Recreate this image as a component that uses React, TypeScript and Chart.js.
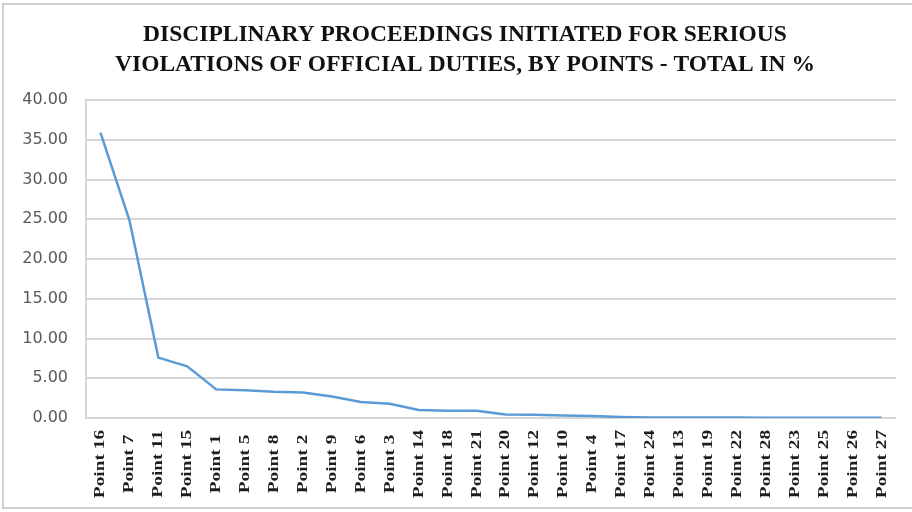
import React, { useEffect, useRef } from "react";
import { Chart, registerables } from "chart.js";

Chart.register(...registerables);

const categories: string[] = [
  "Point 16", "Point 7", "Point 11", "Point 15", "Point 1", "Point 5", "Point 8",
  "Point 2", "Point 9", "Point 6", "Point 3", "Point 14", "Point 18", "Point 21",
  "Point 20", "Point 12", "Point 10", "Point 4", "Point 17", "Point 24", "Point 13",
  "Point 19", "Point 22", "Point 28", "Point 23", "Point 25", "Point 26", "Point 27",
];

const totalPercent: number[] = [
  35.9, 24.9, 7.6, 6.5, 3.6, 3.5, 3.3,
  3.2, 2.7, 2.0, 1.8, 1.0, 0.9, 0.9,
  0.45, 0.4, 0.3, 0.25, 0.12, 0.07, 0.06,
  0.05, 0.05, 0.04, 0.03, 0.03, 0.02, 0.02,
];

const titleLines: string[] = [
  "DISCIPLINARY PROCEEDINGS INITIATED FOR SERIOUS",
  "VIOLATIONS OF OFFICIAL DUTIES, BY POINTS - TOTAL IN %",
];

// Outer frame around the whole chart
const framePlugin = {
  id: "frame",
  beforeDraw(chart: Chart) {
    const { ctx } = chart;
    ctx.save();
    ctx.fillStyle = "#ffffff";
    ctx.fillRect(0, 0, chart.width, chart.height);
    ctx.strokeStyle = "#cfcfcf";
    ctx.lineWidth = 2;
    ctx.strokeRect(3, 4, chart.width + 10, 504);
    ctx.restore();
  },
};

// Two-line heading, centred over the chart
const headingPlugin = {
  id: "heading",
  afterDraw(chart: Chart) {
    const { ctx } = chart;
    ctx.save();
    ctx.fillStyle = "#111111";
    ctx.font = "bold 23.5px 'Liberation Serif', serif";
    ctx.textAlign = "center";
    ctx.textBaseline = "middle";
    const cx = 465;
    titleLines.forEach((line, i) => {
      ctx.fillText(line, cx, 35 + i * 30);
    });
    ctx.restore();
  },
};

// Vertical category labels, centred in the band below the plot
const categoryLabelPlugin = {
  id: "categoryLabels",
  afterDraw(chart: Chart) {
    const { ctx } = chart;
    const xScale = chart.scales.x;
    const labels = chart.data.labels as string[];
    const centerY = chart.chartArea.bottom + 46;
    ctx.save();
    ctx.fillStyle = "#1e1e1e";
    ctx.font = "bold 15.5px 'Liberation Serif', serif";
    ctx.textAlign = "center";
    ctx.textBaseline = "middle";
    labels.forEach((label, i) => {
      const x = xScale.getPixelForTick(i);
      ctx.save();
      ctx.translate(x, centerY);
      ctx.rotate(-Math.PI / 2);
      ctx.scale(1.25, 1);
      ctx.fillText(label, 0, 0);
      ctx.restore();
    });
    ctx.restore();
  },
};

export default function App() {
  const canvasRef = useRef<HTMLCanvasElement | null>(null);

  useEffect(() => {
    const canvas = canvasRef.current;
    if (!canvas) return;
    const chart = new Chart(canvas, {
      type: "line",
      data: {
        labels: categories,
        datasets: [
          {
            label: "Total in %",
            data: totalPercent,
            borderColor: "#5b9bd5",
            backgroundColor: "#5b9bd5",
            borderWidth: 2.5,
            pointRadius: 0,
            tension: 0,
          },
        ],
      },
      options: {
        animation: false,
        responsive: false,
        layout: { padding: { top: 100, left: 0, right: 16, bottom: 0 } },
        plugins: {
          legend: { display: false },
          tooltip: { enabled: false },
          title: { display: false },
        },
        scales: {
          x: {
            offset: true,
            grid: { display: false },
            border: { display: false },
            ticks: { display: false },
            afterFit(scale: any) {
              scale.height = 94;
            },
          },
          y: {
            min: 0,
            max: 40,
            ticks: {
              stepSize: 5,
              color: "#595959",
              font: { family: "'DejaVu Sans', sans-serif", size: 16 },
              padding: 18,
              callback: (v: any) => Number(v).toFixed(2),
            },
            grid: { color: "#d6d6d6", lineWidth: 2, drawTicks: false },
            border: { display: true, color: "#d6d6d6", width: 2 },
            afterFit(scale: any) {
              scale.width = 86;
            },
          },
        },
      },
      plugins: [framePlugin, headingPlugin, categoryLabelPlugin],
    });
    return () => chart.destroy();
  }, []);

  return (
    <div style={{ position: "fixed", left: 0, top: 0, width: 912, height: 512, background: "#fff" }}>
      <canvas ref={canvasRef} width={912} height={512} style={{ display: "block" }} />
    </div>
  );
}
